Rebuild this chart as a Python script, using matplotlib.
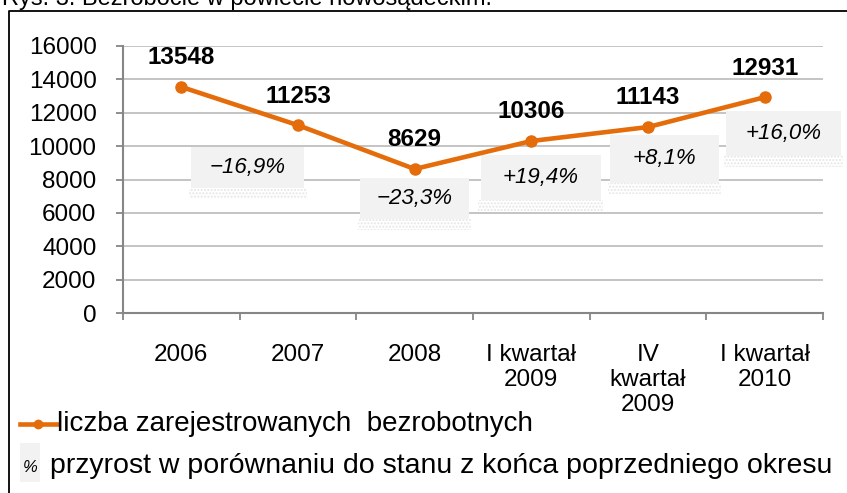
import matplotlib.pyplot as plt
from matplotlib.patches import Rectangle
from matplotlib.lines import Line2D

plt.rcParams['font.family'] = ['Liberation Sans', 'DejaVu Sans']

categories = ['2006', '2007', '2008', 'I kwartał\n2009', 'IV\nkwartał\n2009', 'I kwartał\n2010']
unemployed = [13548, 11253, 8629, 10306, 11143, 12931]
change_labels = ['−16,9%', '−23,3%', '+19,4%', '+8,1%', '+16,0%']
y_ticks = [0, 2000, 4000, 6000, 8000, 10000, 12000, 14000, 16000]

# where the change boxes sit (x index, y centre, width, height in data units)
box_x = [0.57, 2.0, 3.08, 4.14, 5.16]
box_y = [8720, 6860, 8120, 9230, 10750]
box_w = [0.97, 0.93, 1.03, 0.93, 0.98]
box_h = [2450, 2450, 2700, 2850, 2700]

W, H = 847, 493
orange = '#E46C0A'

fig = plt.figure(figsize=(W / 100, H / 100), dpi=100)


def fx(x):
    return x / W


def fy(y):
    return 1 - y / H


# outer frame (cut off at the right and bottom)
fig.add_artist(Line2D([fx(9), fx(9), fx(W + 5)], [fy(H + 5), fy(11), fy(11)],
                      color='black', lw=1.3, transform=fig.transFigure))
# title, mostly cut off at the top as in the source
fig.text(fx(2), fy(5), 'Rys. 3. Bezrobocie w powiecie nowosądeckim.',
         fontsize=17, va='baseline', ha='left')

ax = fig.add_axes([fx(123), fy(313), (823 - 123) / W, (313 - 46) / H])
x = list(range(len(categories)))

for gy in y_ticks[1:]:
    ax.axhline(gy, color='#BFBFBF', lw=1.3, zorder=0)

ax.plot(x, unemployed, color=orange, lw=3.3, marker='o', ms=8,
        solid_capstyle='round', zorder=3)

for xi, v in zip(x, unemployed):
    ax.annotate(str(v), (xi, v), xytext=(0, 21), textcoords='offset points',
                ha='center', va='center', fontsize=17.5, fontweight='bold')

for bx, by, bw, bh, lab in zip(box_x, box_y, box_w, box_h, change_labels):
    shadow = Rectangle((bx - bw / 2 - 0.02, by - bh / 2 - 650), bw + 0.04, 650,
                       facecolor='none', edgecolor='#E6E6E6', hatch='.....',
                       lw=0, zorder=1, clip_on=False)
    ax.add_patch(shadow)
    ax.add_patch(Rectangle((bx - bw / 2, by - bh / 2), bw, bh,
                           facecolor='#F2F2F2', edgecolor='none', zorder=2,
                           clip_on=False))
    ax.text(bx, by, lab, ha='center', va='center', fontsize=16,
            style='italic', zorder=4)

ax.set_xlim(-0.5, len(categories) - 0.5)
ax.set_ylim(0, 16000)
ax.set_yticks(y_ticks)
ax.set_yticklabels([str(t) for t in y_ticks], fontsize=17.5)
ax.set_xticks(x)
ax.set_xticklabels(categories, fontsize=17.5, linespacing=1.2)
ax.set_xticks([i - 0.5 for i in range(len(categories) + 1)], minor=True)
ax.tick_params(axis='x', which='major', length=0, pad=22)
ax.tick_params(axis='x', which='minor', length=5, width=1.3, color='#868686', direction='out')
ax.tick_params(axis='y', length=5, width=1.3, color='#868686', pad=14)

for s in ['top', 'right']:
    ax.spines[s].set_visible(False)
for s in ['left', 'bottom']:
    ax.spines[s].set_color('#868686')
    ax.spines[s].set_linewidth(1.5)

# legend drawn by hand
fig.add_artist(Line2D([fx(20), fx(57)], [fy(424), fy(424)], color=orange, lw=3.3,
                      transform=fig.transFigure))
fig.add_artist(Line2D([fx(38)], [fy(424)], color=orange, marker='o', ms=6,
                      transform=fig.transFigure))
fig.text(fx(57), fy(424), 'liczba zarejestrowanych  bezrobotnych',
         fontsize=20, va='center', ha='left')
fig.add_artist(Rectangle((fx(20), fy(482)), fx(20), 39 / H, facecolor='#F2F2F2',
                         edgecolor='none', transform=fig.transFigure))
fig.text(fx(30), fy(467), '%', fontsize=12, style='italic', va='center', ha='center')
fig.text(fx(50), fy(466), 'przyrost w porównaniu do stanu z końca poprzedniego okresu',
         fontsize=20.5, va='center', ha='left')

fig.savefig('out.png', dpi=100)
